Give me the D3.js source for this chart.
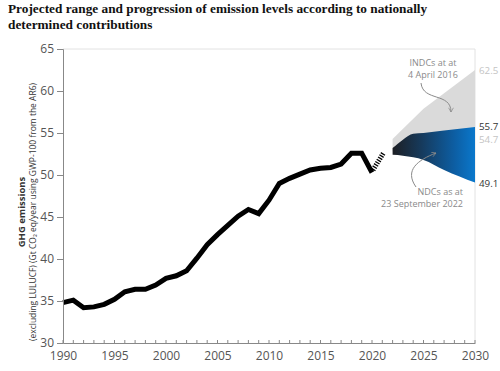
<!DOCTYPE html>
<html>
<head>
<meta charset="utf-8">
<script src="https://cdn.jsdelivr.net/npm/d3@7"></script>
<style>
  body { margin: 0; background: #fff; }
  svg { display: block; }
</style>
</head>
<body>
<svg id="chart" width="500" height="371"></svg>
<script>
// historic emissions (Gt CO2 eq)
const years = d3.range(1990, 2021);
const emissions = [34.8, 35.1, 34.2, 34.3, 34.6, 35.2, 36.1, 36.4, 36.4, 36.9,
  37.7, 38.0, 38.6, 40.1, 41.7, 42.9, 44.0, 45.1, 45.9, 45.4,
  47.0, 49.0, 49.6, 50.1, 50.6, 50.8, 50.9, 51.3, 52.6, 52.6, 50.3];

// 2020 -> 2021 rebound (hatched)
const reboundYears = [2020.1, 2021.1];
const reboundValues = [50.6, 52.6];

// INDC range (grey)
const indcYears = [2022, 2025, 2030];
const indcHigh = [54.3, 57.9, 62.5];
const indcLow = [52.8, 54.2, 54.7];

// NDC range (blue)
const ndcYears = [2022, 2023, 2024, 2025, 2027, 2030];
const ndcHigh = [53.2, 54.2, 54.9, 55.0, 55.3, 55.7];
const ndcLow = [52.4, 52.3, 52.1, 51.8, 50.6, 49.1];

const yTicks = [30, 35, 40, 45, 50, 55, 60, 65];
const xTicks = [1990, 1995, 2000, 2005, 2010, 2015, 2020, 2025, 2030];

const endLabels = [
  { text: "62.5", value: 62.5, color: "#c4c4c4", dy: 0 },
  { text: "55.7", value: 55.7, color: "#333", dy: -1.5 },
  { text: "54.7", value: 54.7, color: "#c4c4c4", dy: 3.5 },
  { text: "49.1", value: 49.1, color: "#333", dy: 0 }
];

const svg = d3.select("#chart");
const labelFont = "'Open Sans', sans-serif";

const x = d3.scaleLinear().domain([1990, 2030]).range([63, 475]);
const y = d3.scaleLinear().domain([30, 65]).range([343, 49]);

// title
const title = svg.append("text")
  .attr("font-family", "'Liberation Serif', serif")
  .attr("font-weight", "bold")
  .attr("font-size", 13.3)
  .attr("fill", "#111");
title.append("tspan").attr("x", 8).attr("y", 13)
  .text("Projected range and progression of emission levels according to nationally");
title.append("tspan").attr("x", 8).attr("y", 29)
  .text("determined contributions");

// frame (top + right)
svg.append("path")
  .attr("d", `M${x(1990)},${y(65)}H${x(2030)}V${y(30)}`)
  .attr("fill", "none")
  .attr("stroke", "#e2e2e2")
  .attr("stroke-width", 1);

// gradient for NDC area
const defs = svg.append("defs");
const grad = defs.append("linearGradient")
  .attr("id", "ndcGrad")
  .attr("gradientUnits", "userSpaceOnUse")
  .attr("x1", x(2022)).attr("x2", x(2030))
  .attr("y1", 0).attr("y2", 0);
grad.append("stop").attr("offset", "0%").attr("stop-color", "#1d1f24");
grad.append("stop").attr("offset", "35%").attr("stop-color", "#163a5c");
grad.append("stop").attr("offset", "75%").attr("stop-color", "#0d5ea3");
grad.append("stop").attr("offset", "100%").attr("stop-color", "#0a78cc");

const marker = defs.append("marker")
  .attr("id", "arrow")
  .attr("viewBox", "0 0 10 10")
  .attr("refX", 8).attr("refY", 5)
  .attr("markerWidth", 6).attr("markerHeight", 6)
  .attr("orient", "auto");
marker.append("path")
  .attr("d", "M1,1L8,5L1,9")
  .attr("fill", "none")
  .attr("stroke", "#8a8a8a")
  .attr("stroke-width", 1.2);

// INDC area
const indcData = indcYears.map((yr, i) => ({ yr, hi: indcHigh[i], lo: indcLow[i] }));
svg.append("path")
  .datum(indcData)
  .attr("fill", "#dadada")
  .attr("d", d3.area().x(d => x(d.yr)).y0(d => y(d.lo)).y1(d => y(d.hi)));

// NDC area
const ndcData = ndcYears.map((yr, i) => ({ yr, hi: ndcHigh[i], lo: ndcLow[i] }));
svg.append("path")
  .datum(ndcData)
  .attr("fill", "url(#ndcGrad)")
  .attr("d", d3.area().x(d => x(d.yr)).y0(d => y(d.lo)).y1(d => y(d.hi))
    .curve(d3.curveMonotoneX));

// historic line
const histData = years.map((yr, i) => ({ yr, v: emissions[i] }));
const line = d3.line().x(d => x(d.yr)).y(d => y(d.v));
svg.append("path")
  .datum(histData)
  .attr("fill", "none")
  .attr("stroke", "#000")
  .attr("stroke-width", 5)
  .attr("stroke-linejoin", "miter")
  .attr("d", line);

// hatched rebound
svg.append("path")
  .datum(reboundYears.map((yr, i) => ({ yr, v: reboundValues[i] })))
  .attr("fill", "none")
  .attr("stroke", "#000")
  .attr("stroke-width", 5)
  .attr("stroke-dasharray", "1.3,1.3")
  .attr("d", line);

// y axis
const yAxis = svg.append("g")
  .attr("transform", `translate(${x(1990)},0)`)
  .call(d3.axisLeft(y).tickValues(yTicks).tickSize(6).tickPadding(3));
yAxis.select(".domain").attr("stroke", "#888");
yAxis.selectAll(".tick line").attr("stroke", "#888");
yAxis.selectAll(".tick text")
  .attr("font-family", labelFont)
  .attr("font-size", 12)
  .attr("fill", "#555");

// x axis
const xAxis = svg.append("g")
  .attr("transform", `translate(0,${y(30)})`)
  .call(d3.axisBottom(x).tickValues(xTicks).tickSize(0).tickPadding(8)
    .tickFormat(d3.format("d")));
xAxis.select(".domain").attr("stroke", "#888");
xAxis.selectAll(".tick text")
  .attr("font-family", labelFont)
  .attr("font-size", 12)
  .attr("fill", "#555");
svg.append("g")
  .selectAll("line")
  .data(d3.range(1990, 2031))
  .join("line")
  .attr("x1", d => x(d)).attr("x2", d => x(d))
  .attr("y1", y(30)).attr("y2", y(30) - 3)
  .attr("stroke", "#888");

// y axis title
const yTitle = svg.append("text")
  .attr("transform", `translate(25,${(y(30) + y(65)) / 2 + 16}) rotate(-90)`)
  .attr("text-anchor", "middle")
  .attr("font-family", labelFont)
  .attr("font-size", 9.5)
  .attr("fill", "#333");
yTitle.append("tspan").attr("x", 0).attr("y", 0)
  .attr("font-weight", "bold")
  .text("GHG emissions");
yTitle.append("tspan").attr("x", 0).attr("y", 11)
  .attr("textLength", 258).attr("lengthAdjust", "spacingAndGlyphs")
  .text("(excluding LULUCF) (Gt CO\u2082 eq/year using GWP-100 from the AR6)");

// end labels
svg.append("g")
  .selectAll("text")
  .data(endLabels)
  .join("text")
  .attr("x", x(2030) + 4)
  .attr("y", d => y(d.value) + d.dy + 4)
  .attr("font-family", labelFont)
  .attr("font-size", 9.8)
  .attr("fill", d => d.color)
  .text(d => d.text);

// annotations
const ann1 = svg.append("text")
  .attr("text-anchor", "middle")
  .attr("font-family", labelFont)
  .attr("font-size", 9)
  .attr("fill", "#8a8a8a");
ann1.append("tspan").attr("x", 433).attr("y", 66).text("INDCs at at");
ann1.append("tspan").attr("x", 433).attr("y", 77.5).text("4 April 2016");

svg.append("path")
  .attr("d", "M421,83C423,102 451,92 451,112")
  .attr("fill", "none")
  .attr("stroke", "#8a8a8a")
  .attr("stroke-width", 1)
  .attr("marker-end", "url(#arrow)");

const ann2 = svg.append("text")
  .attr("text-anchor", "end")
  .attr("font-family", labelFont)
  .attr("font-size", 9)
  .attr("fill", "#8a8a8a");
ann2.append("tspan").attr("x", 463).attr("y", 195).text("NDCs as at");
ann2.append("tspan").attr("x", 463).attr("y", 206.5).text("23 September 2022");

svg.append("path")
  .attr("d", "M416,187C404,170 418,160 436,153")
  .attr("fill", "none")
  .attr("stroke", "#8a8a8a")
  .attr("stroke-width", 1)
  .attr("marker-end", "url(#arrow)");
</script>
</body>
</html>
